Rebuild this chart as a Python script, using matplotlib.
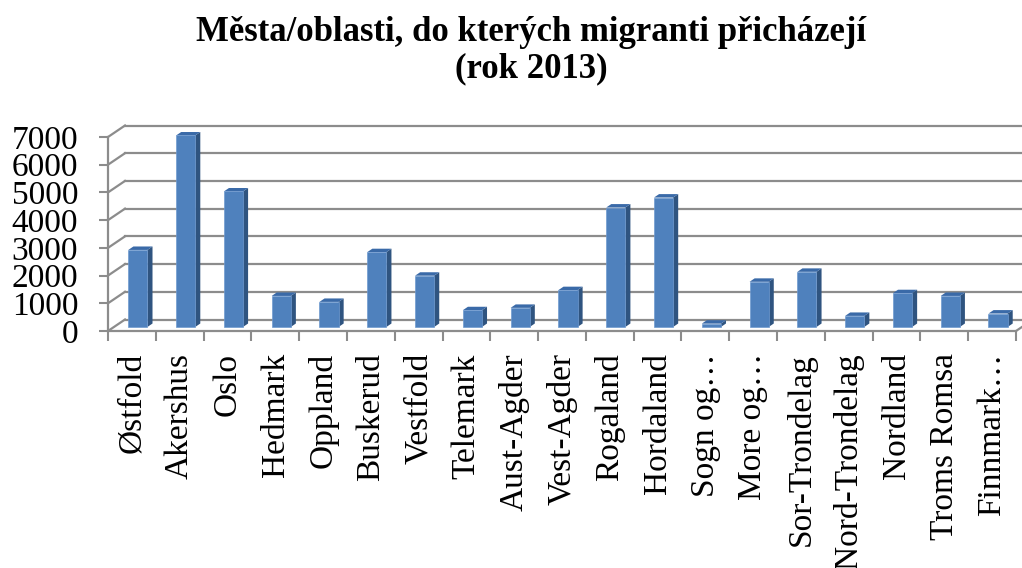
import matplotlib
matplotlib.use("Agg")
import numpy as np
import matplotlib.pyplot as plt
from matplotlib.patches import Polygon

# Data
regions = ["Østfold", "Akershus", "Oslo", "Hedmark", "Oppland", "Buskerud",
           "Vestfold", "Telemark", "Aust-Agder", "Vest-Agder", "Rogaland",
           "Hordaland", "Sogn og…", "More og…", "Sor-Trondelag",
           "Nord-Trondelag", "Nordland", "Troms Romsa", "Finnmark…"]
migrants = [2780, 6910, 4890, 1120, 905, 2700, 1850, 605, 690, 1330, 4310,
            4670, 120, 1630, 1990, 400, 1220, 1120, 485]
y_ticks = [0, 1000, 2000, 3000, 4000, 5000, 6000, 7000]

title = "Města/oblasti, do kterých migranti přicházejí\n(rok 2013)"

front_col = "#4F81BD"
side_col = "#2F5480"
top_col = "#3A6AA8"
grid_col = "#8C8C8C"

fig = plt.figure(figsize=(10.22, 5.68), dpi=100)
W, H = 1022, 568
ax = fig.add_axes([108 / W, 1 - 331 / H, 908 / W, 194 / H])

n = len(regions)
ymax = y_ticks[-1]
ax.set_xlim(-0.5, n - 0.5)
ax.set_ylim(0, ymax)
for s in ax.spines.values():
    s.set_visible(False)

# depth of the fake 3D box, in data units (17 px right, 11.5 px up)
dx = 17 / (908 / n)
dy = 11.5 / (194 / ymax)

# back wall and side wall gridlines
for t in y_ticks:
    ax.plot([-0.5 + dx, n - 0.5 + dx], [t + dy, t + dy], color=grid_col,
            lw=1.6, clip_on=False, zorder=1)
    ax.plot([-0.5, -0.5 + dx], [t, t + dy], color=grid_col, lw=1.6,
            clip_on=False, zorder=1)
# floor and front axis
ax.plot([-0.5, n - 0.5], [0, 0], color=grid_col, lw=1.6, clip_on=False, zorder=2)
ax.plot([n - 0.5, n - 0.5 + dx], [0, dy], color=grid_col, lw=1.6, clip_on=False, zorder=2)
ax.plot([-0.5, -0.5], [0, ymax], color=grid_col, lw=1.6, clip_on=False, zorder=2)

# bars with side and top faces
pos = np.arange(n)
w = 0.4
d0, d1 = 0.35, 0.65
ax.bar(pos + d0 * dx, migrants, width=w, bottom=d0 * dy, color=front_col,
       edgecolor="#6F9AD0", linewidth=0.5, zorder=4, clip_on=False)
for x, v in zip(pos, migrants):
    xl = x - w / 2
    xr = x + w / 2
    side = [(xr + d0 * dx, d0 * dy), (xr + d1 * dx, d1 * dy),
            (xr + d1 * dx, v + d1 * dy), (xr + d0 * dx, v + d0 * dy)]
    top = [(xl + d0 * dx, v + d0 * dy), (xr + d0 * dx, v + d0 * dy),
           (xr + d1 * dx, v + d1 * dy), (xl + d1 * dx, v + d1 * dy)]
    ax.add_patch(Polygon(side, closed=True, facecolor=side_col,
                         edgecolor="none", zorder=3, clip_on=False))
    ax.add_patch(Polygon(top, closed=True, facecolor=top_col,
                         edgecolor="none", zorder=3, clip_on=False))

# ticks
ax.set_yticks(y_ticks)
ax.set_yticklabels([str(t) for t in y_ticks], fontfamily="Liberation Serif",
                   fontsize=24)
ax.tick_params(axis="y", length=6.5, width=1.5, color=grid_col, pad=15)

ax.set_xticks(np.arange(n + 1) - 0.5)
ax.set_xticklabels([""] * (n + 1))
ax.tick_params(axis="x", which="major", length=7.2, width=1.5, color=grid_col)
ax.set_xticks(pos, minor=True)
ax.set_xticklabels(regions, minor=True, rotation=90, fontfamily="Liberation Serif",
                   fontsize=24, va="top", ha="center")
ax.tick_params(axis="x", which="minor", length=0, pad=16)

fig.text(531 / W, 1 - 16 / H, title, ha="center", va="top",
         fontfamily="Liberation Serif", fontweight="bold", fontsize=25,
         linespacing=1.15)

fig.savefig("out.png", dpi=100)
